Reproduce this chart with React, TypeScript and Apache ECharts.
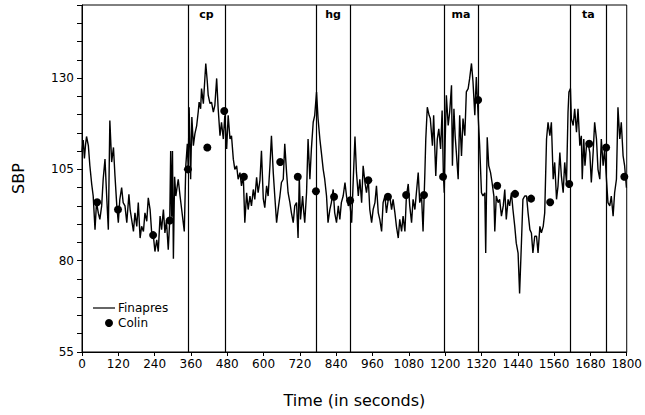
import React, { useEffect, useRef } from "react";
import * as echarts from "echarts";

// Finapres trace: time (s) and SBP
const finapresT = [0, 4, 8, 12, 15, 21, 26, 32, 37, 43, 48, 54, 59, 65, 70, 76, 81, 87, 92, 98, 104, 109, 115, 120, 125, 131, 136, 142, 148, 155, 159, 164, 170, 175, 181, 186, 192, 197, 203, 208, 214, 219, 225, 230, 236, 241, 247, 252, 258, 263, 269, 274, 279, 285, 290, 293, 296, 299, 302, 306, 310, 318, 324, 332, 338, 343, 348, 351, 354, 359, 363, 368, 373, 379, 384, 387, 392, 395, 401, 406, 409, 414, 417, 423, 428, 434, 439, 445, 450, 456, 461, 467, 472, 478, 483, 489, 494, 500, 505, 511, 516, 522, 527, 533, 538, 544, 549, 555, 560, 566, 571, 577, 582, 588, 593, 599, 604, 610, 615, 621, 626, 632, 637, 643, 648, 654, 659, 665, 670, 676, 681, 687, 692, 698, 703, 709, 714, 718, 722, 729, 733, 736, 742, 747, 753, 758, 764, 769, 775, 780, 786, 791, 797, 802, 808, 813, 819, 824, 830, 835, 841, 847, 852, 857, 863, 869, 874, 880, 885, 891, 896, 902, 907, 913, 918, 924, 929, 935, 940, 946, 951, 957, 962, 968, 973, 979, 984, 990, 995, 1001, 1006, 1012, 1017, 1023, 1028, 1034, 1039, 1045, 1050, 1056, 1061, 1067, 1072, 1078, 1083, 1089, 1094, 1100, 1105, 1111, 1116, 1122, 1127, 1133, 1136, 1141, 1147, 1151, 1158, 1162, 1169, 1174, 1179, 1185, 1190, 1194, 1197, 1200, 1204, 1210, 1215, 1221, 1224, 1229, 1233, 1237, 1243, 1248, 1254, 1259, 1265, 1270, 1276, 1281, 1287, 1292, 1298, 1303, 1309, 1314, 1320, 1325, 1331, 1334, 1339, 1344, 1350, 1355, 1361, 1364, 1369, 1375, 1380, 1386, 1392, 1397, 1402, 1408, 1413, 1419, 1424, 1430, 1435, 1441, 1446, 1452, 1457, 1463, 1469, 1474, 1480, 1485, 1490, 1496, 1502, 1507, 1513, 1518, 1524, 1529, 1535, 1540, 1546, 1551, 1557, 1562, 1568, 1573, 1579, 1584, 1590, 1595, 1601, 1606, 1609, 1614, 1617, 1623, 1628, 1634, 1639, 1645, 1650, 1653, 1658, 1662, 1667, 1672, 1678, 1683, 1689, 1694, 1700, 1705, 1711, 1716, 1722, 1727, 1733, 1738, 1744, 1749, 1755, 1760, 1766, 1771, 1777, 1782, 1788, 1793, 1799];
const finapresV = [110, 113, 108, 112, 114, 111.5, 106, 101, 97.7, 88.5, 96, 93, 91.3, 95, 102.3, 107.8, 98.6, 88.5, 118.4, 107, 111, 103.2, 95, 90.4, 96.8, 100, 95.9, 95, 90.4, 98.2, 94, 91.3, 88, 93.1, 89.4, 95.9, 86.2, 89.4, 88, 93.1, 90.8, 97.2, 94, 88, 86.7, 82.5, 85.7, 82.5, 92.2, 88.5, 94, 87.6, 91, 83, 91.3, 110, 92, 110, 80.5, 103, 97.7, 102.3, 97.7, 92.2, 88, 106, 112, 105.5, 122, 102.3, 119.3, 111.5, 114.7, 117, 120.7, 123.4, 121.6, 127.1, 123, 129.9, 134, 129, 125.3, 123, 123.4, 120.7, 122.5, 129.9, 121.6, 114.2, 117.9, 113.3, 119.8, 110.6, 119.8, 113.3, 114.2, 107.8, 105, 106, 102.3, 104.1, 100.5, 103.2, 90.4, 98.6, 94, 97.7, 95, 99.5, 96.8, 102.8, 98.6, 102, 110.1, 97, 94.5, 100.5, 97.7, 106, 114.2, 104.1, 97.7, 90.4, 94, 97.7, 101.4, 102.3, 112, 104.1, 98.6, 95.9, 93.1, 90.4, 95, 95.9, 86.2, 103.2, 91.3, 97.7, 93.1, 90.4, 98.6, 113.3, 102.3, 110.6, 117.9, 119.8, 126.2, 118.9, 113.3, 109.6, 105, 102.3, 97.7, 90.4, 94, 95.9, 99.5, 93.1, 90.4, 95, 91.3, 95.9, 97.7, 101.4, 97.7, 95, 96, 90.4, 101.4, 114, 104.1, 97.7, 102.3, 95.9, 106, 101.4, 98.6, 102.3, 94, 90.4, 94, 95.9, 100.5, 93.1, 91.3, 88, 95.9, 97.7, 93.1, 96.8, 97.7, 94, 96.8, 93.1, 89.4, 86.2, 91.3, 88, 92.2, 88, 97.7, 101, 95, 90.4, 96.8, 94, 98.6, 104.1, 95.9, 97.7, 88, 104.1, 113.3, 122, 119.8, 118.9, 111.5, 119.8, 103.2, 113.3, 116.1, 110.6, 121.1, 104, 98.6, 112.4, 125.3, 117, 120.7, 128, 106, 121.6, 114.2, 109.6, 102.3, 119.8, 108.7, 118.9, 114.2, 126.2, 127.1, 129.9, 134, 129, 119.8, 130.3, 119.8, 111.5, 98.6, 97.7, 98.6, 82.1, 113.8, 106, 104.1, 101.4, 97.7, 88, 97.7, 95.9, 96.8, 92.2, 95, 99.5, 91.3, 96.8, 95, 98.6, 94, 89.4, 84.8, 82.1, 71, 84.8, 96.8, 97.7, 97.7, 93.1, 88.5, 87.6, 82.1, 86.7, 86.7, 82.1, 89.4, 87.6, 89.4, 93.1, 113.3, 117.9, 114.2, 117.9, 102.3, 106.9, 96.8, 100.5, 109.6, 103.2, 98.6, 106.9, 101.4, 120.7, 126.2, 127.1, 118.9, 117, 121.6, 115.2, 121.6, 111.5, 114.2, 102.3, 113.3, 106, 111.5, 112.4, 109.6, 101.4, 109.6, 117.9, 113.3, 105, 102.3, 113.3, 106, 110.6, 102.3, 95.9, 95, 97.7, 92.2, 98.6, 102.3, 122, 113.3, 117.9, 108.7, 106, 100];

// Colin readings
const colinT = [50, 119, 235, 290, 350, 414, 470, 535, 655, 713, 773, 833, 886, 946, 1011, 1071, 1130, 1193, 1309, 1372, 1431, 1484, 1547, 1610, 1676, 1732, 1792];
const colinV = [96, 94, 87, 91, 105, 111, 121, 103, 107, 103, 99, 97.5, 96.5, 102, 97.5, 98, 98, 103, 124, 100.5, 98.3, 97, 96, 101, 112, 111, 103];

// Manoeuvre periods
const eventLabels = ["cp", "hg", "ma", "ta"];
const eventStart = [350, 773, 1196, 1613];
const eventEnd = [473, 886, 1308, 1733];

const yLabels = [55, 80, 105, 130];

const FONT = "DejaVu Sans";

export default function App() {
  const ref = useRef<HTMLDivElement>(null);
  useEffect(() => {
    if (!ref.current) return;
    const chart = echarts.init(ref.current, undefined, { renderer: "svg" });
    const lineData = finapresT.map((t, i) => [t, finapresV[i]]);
    const dotData = colinT.map((t, i) => [t, colinV[i]]);
    const vlines: any[] = [];
    eventStart.forEach((s, i) => {
      vlines.push({ xAxis: s });
      vlines.push({ xAxis: eventEnd[i] });
    });
    const areas = eventLabels.map((l, i) => [
      { xAxis: eventStart[i], name: l },
      { xAxis: eventEnd[i] },
    ]);
    chart.setOption({
      animation: false,
      grid: {
        left: 82,
        right: 17,
        top: 5,
        bottom: 63,
        show: true,
        borderColor: "#000",
        borderWidth: 1,
        backgroundColor: "transparent",
      },
      xAxis: {
        type: "value",
        min: 0,
        max: 1800,
        interval: 120,
        name: "Time (in seconds)",
        nameLocation: "middle",
        nameGap: 40,
        nameTextStyle: { fontFamily: FONT, fontSize: 16, color: "#000" },
        axisLine: { show: true, onZero: false, lineStyle: { color: "#000", width: 1 } },
        axisTick: { show: true, length: 4, lineStyle: { color: "#000" } },
        axisLabel: {
          fontFamily: FONT,
          fontSize: 12,
          color: "#000",
          margin: 6,
          formatter: (v: number) => String(v),
        },
        splitLine: { show: false },
      },
      yAxis: {
        type: "value",
        min: 55,
        max: 150,
        interval: 5,
        name: "SBP",
        nameLocation: "middle",
        nameGap: 56,
        nameTextStyle: { fontFamily: FONT, fontSize: 16, color: "#000" },
        axisLine: { show: true, lineStyle: { color: "#000", width: 1 } },
        axisTick: { show: true, length: 5, lineStyle: { color: "#000" } },
        axisLabel: {
          fontFamily: FONT,
          fontSize: 12,
          color: "#000",
          margin: 8,
          formatter: (v: number) => (yLabels.includes(v) ? String(v) : ""),
        },
        splitLine: { show: false },
      },
      series: [
        {
          name: "Finapres",
          type: "line",
          data: lineData,
          symbol: "none",
          lineStyle: { color: "#000", width: 1.4 },
          markLine: {
            silent: true,
            symbol: ["none", "none"],
            label: { show: false },
            lineStyle: { color: "#000", width: 1.2, type: "solid" },
            data: vlines,
          },
          markArea: {
            silent: true,
            itemStyle: { color: "rgba(0,0,0,0)" },
            label: {
              show: true,
              position: "insideTop",
              distance: 4,
              fontFamily: FONT,
              fontSize: 11,
              fontWeight: "bold",
              color: "#000",
            },
            data: areas,
          },
        },
        {
          name: "Colin",
          type: "scatter",
          data: dotData,
          symbol: "circle",
          symbolSize: 8,
          itemStyle: { color: "#000", opacity: 1 },
          z: 5,
        },
      ],
      graphic: [
        { type: "line", shape: { x1: 93, y1: 308, x2: 115, y2: 308 }, style: { stroke: "#000", lineWidth: 1.2 } },
        { type: "text", x: 118, y: 308, style: { text: "Finapres", fontFamily: FONT, fontSize: 12, fill: "#000", verticalAlign: "middle" } },
        { type: "circle", shape: { cx: 109, cy: 323, r: 4 }, style: { fill: "#000" } },
        { type: "text", x: 118, y: 323, style: { text: "Colin", fontFamily: FONT, fontSize: 12, fill: "#000", verticalAlign: "middle" } },
      ],
    });
    return () => chart.dispose();
  }, []);
  return (
    <div
      ref={ref}
      style={{ position: "fixed", left: 0, top: 0, width: 645, height: 415, background: "#fff" }}
    />
  );
}
